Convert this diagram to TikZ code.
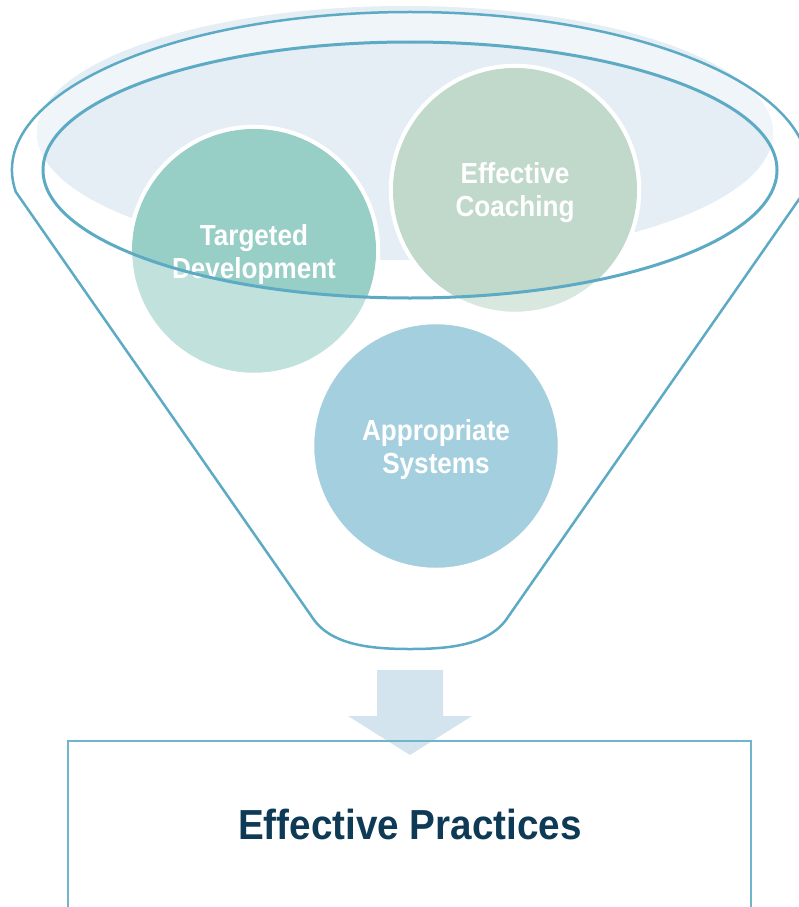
\documentclass[tikz,border=0pt]{standalone}
\usepackage{fontspec}
\newfontfamily\circfont[FakeStretch=0.9]{Liberation Sans}
\newfontfamily\boxfont[FakeStretch=0.92]{Liberation Sans}
\definecolor{rimblue}{HTML}{5DAAC5}
\definecolor{boxblue}{HTML}{70B5CB}
\definecolor{shadeblue}{HTML}{E5EEF5}
\definecolor{ringblue}{HTML}{EFF5F9}
\definecolor{targdark}{HTML}{97CEC5}
\definecolor{targlight}{HTML}{C0E1DC}
\definecolor{coachdark}{HTML}{C1D9CB}
\definecolor{coachlight}{HTML}{D8E8DF}
\definecolor{systblue}{HTML}{A4CFDF}
\definecolor{arrowblue}{HTML}{D3E4EE}
\definecolor{navy}{HTML}{0E3A56}

\begin{document}
\begin{tikzpicture}[x=1pt, y=-1pt,
    bubble/.style = {circle, draw=white, line width=4.5pt, minimum size=248pt, inner sep=0pt},
    words/.style = {text=white, align=center, inner sep=0pt, yshift=-3pt, font=\circfont\bfseries\fontsize{29}{33}\selectfont}]
    \useasboundingbox (0,0) rectangle (799,907);
    \clip (0,0) rectangle (799,907);

    % shading behind the funnel top
    \fill[shadeblue] (405,133) ellipse [x radius=368, y radius=127];
    \begin{scope}
        \clip (405,133) ellipse [x radius=368, y radius=127];
        \fill[ringblue, even odd rule] (410,170) ellipse [x radius=398, y radius=158]
            (410,170) ellipse [x radius=367, y radius=128];
    \end{scope}

    \node[bubble, fill=targlight] (targ) at (254,251) {};
    \node[bubble, fill=coachlight] (coach) at (515,190) {};
    \node[bubble, fill=systblue] (syst) at (436,446) {};
    \begin{scope}
        \clip (410,170) ellipse [x radius=367, y radius=128];
        \fill[targdark] (targ.center) circle (122);
        \fill[coachdark] (coach.center) circle (122);
    \end{scope}
    \node[words] (targtxt) at (targ) {Targeted\\Development};
    \node[words] (coachtxt) at (coach) {Effective\\Coaching};
    \node[words] (systtxt) at (syst) {Appropriate\\Systems};

    % funnel
    \draw[rimblue, line width=3pt] (410,170) ellipse [x radius=367, y radius=128];
    \draw[rimblue, line width=2.5pt] (410,170) +(172:398 and 158)
        arc[start angle=172, end angle=368, x radius=398, y radius=158]
        -- (508,617) .. controls (490,645) and (450,649) .. (410,649)
        .. controls (370,649) and (330,645) .. (312,617) -- cycle;

    \fill[arrowblue] (377,670) -- (443,670) -- (443,716) -- (472,716) -- (410,755)
        -- (348,716) -- (377,716) -- cycle;
    \draw[boxblue, line width=2.5pt] (68,741) rectangle (751,960);
    \node[text=navy, inner sep=0pt, font=\boxfont\bfseries\fontsize{42}{48}\selectfont] (prac) at (410,824) {Effective Practices};
\end{tikzpicture}
\end{document}
